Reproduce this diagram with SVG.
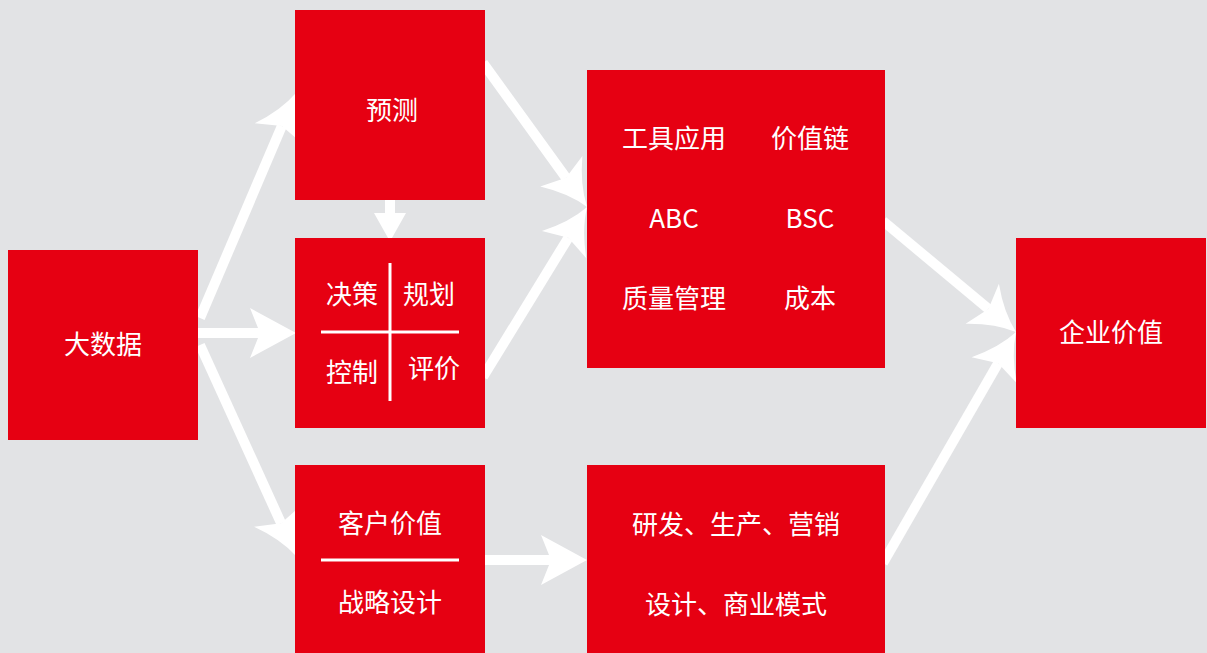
<svg xmlns="http://www.w3.org/2000/svg" width="1207" height="653" viewBox="0 0 1207 653">
<defs>
<style>
.box{fill:#e60012}
.t{fill:#ffffff;font-family:"Noto Sans CJK SC","Noto Sans",sans-serif;font-size:26px;text-anchor:middle;dominant-baseline:central}
.div{stroke:#ffffff;stroke-width:3}
.c{stroke:#ffffff;stroke-width:10;fill:none}
</style>
<marker id="curved" markerUnits="userSpaceOnUse" markerWidth="60" markerHeight="60" refX="0" refY="0" viewBox="-12 -30 52 60" orient="auto" overflow="visible">
<path d="M36,0 Q14,-7 -8,-26 L0,0 L-8,26 Q14,7 36,0 Z" fill="#ffffff"/>
</marker>
<marker id="straight" markerUnits="userSpaceOnUse" markerWidth="60" markerHeight="60" refX="0" refY="0" viewBox="-12 -30 52 60" orient="auto" overflow="visible">
<path d="M36,0 L-10,-25 L0,0 L-10,25 Z" fill="#ffffff"/>
</marker>
<marker id="small" markerUnits="userSpaceOnUse" markerWidth="40" markerHeight="40" refX="0" refY="0" viewBox="-5 -15 35 30" orient="auto" overflow="visible">
<path d="M25,0 L0,-14 L0,14 Z" fill="#ffffff"/>
</marker>
</defs>
<rect width="1207" height="653" fill="#e2e3e5"/>
<g id="connectors">
<line class="c" x1="200" y1="318" x2="281.8" y2="126.1" marker-end="url(#curved)"/>
<line class="c" x1="196" y1="333" x2="260" y2="333" marker-end="url(#straight)"/>
<line class="c" x1="200" y1="345" x2="281.1" y2="523.2" marker-end="url(#curved)"/>
<line class="c" x1="390" y1="198" x2="390" y2="213" marker-end="url(#small)"/>
<line class="c" x1="483" y1="63" x2="566.0" y2="177.8" marker-end="url(#curved)"/>
<line class="c" x1="483" y1="377" x2="568.3" y2="237.8" marker-end="url(#curved)"/>
<line class="c" x1="883" y1="221" x2="988.4" y2="308.9" marker-end="url(#curved)"/>
<line class="c" x1="883" y1="563" x2="998.1" y2="363.2" marker-end="url(#curved)"/>
<line class="c" x1="483" y1="560" x2="551" y2="560" marker-end="url(#straight)"/>
</g>
<g id="bigdata">
<rect class="box" x="8" y="250" width="190" height="190"/>
<text class="t" x="103" y="342">大数据</text>
</g>
<g id="forecast">
<rect class="box" x="295" y="10" width="190" height="190"/>
<text class="t" x="392" y="108">预测</text>
</g>
<g id="decision">
<rect class="box" x="295" y="238" width="190" height="190"/>
<line class="div" x1="390" y1="263" x2="390" y2="401"/>
<line class="div" x1="321" y1="332" x2="459" y2="332"/>
<text class="t" x="352" y="292">决策</text>
<text class="t" x="429" y="292">规划</text>
<text class="t" x="352" y="370">控制</text>
<text class="t" x="434" y="366">评价</text>
</g>
<g id="customer">
<rect class="box" x="295" y="465" width="190" height="188"/>
<text class="t" x="390" y="521">客户价值</text>
<line class="div" x1="321" y1="560" x2="459" y2="560"/>
<text class="t" x="390" y="600">战略设计</text>
</g>
<g id="tools">
<rect class="box" x="587" y="70" width="298" height="298"/>
<text class="t" x="674" y="136">工具应用</text>
<text class="t" x="810" y="136">价值链</text>
<text class="t" x="674" y="216">ABC</text>
<text class="t" x="810" y="216">BSC</text>
<text class="t" x="674" y="296">质量管理</text>
<text class="t" x="810" y="296">成本</text>
</g>
<g id="rnd">
<rect class="box" x="587" y="465" width="298" height="188"/>
<text class="t" x="736" y="522">研发、生产、营销</text>
<text class="t" x="736" y="602">设计、商业模式</text>
</g>
<g id="enterprise">
<rect class="box" x="1016" y="238" width="190" height="190"/>
<text class="t" x="1111" y="330">企业价值</text>
</g>
</svg>
